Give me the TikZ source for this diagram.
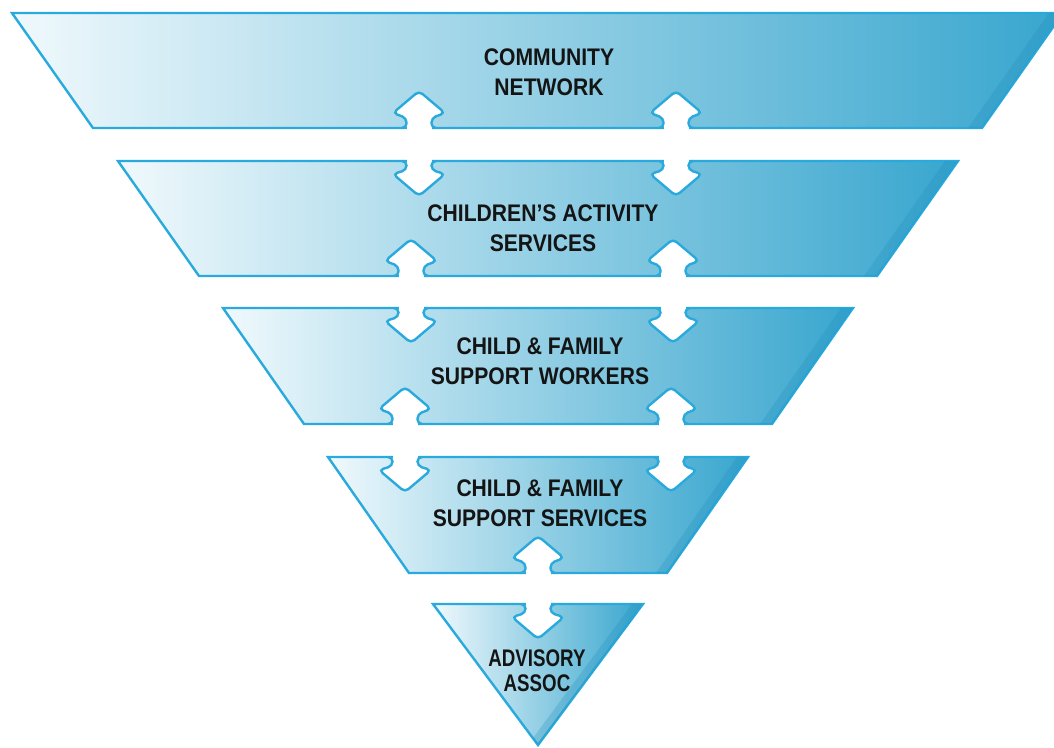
\documentclass[tikz,border=0pt]{standalone}
\usepackage{fontspec}
\newfontfamily\labfont[FakeStretch=0.88]{Liberation Sans}
\newfontfamily\labfontn[FakeStretch=0.78]{Liberation Sans}
\definecolor{edgeblue}{HTML}{2AAADC}
\definecolor{fillL}{HTML}{F0F9FC}
\definecolor{fillM}{HTML}{A3D6E6}
\definecolor{fillR}{HTML}{38A6CE}
\definecolor{bandblue}{HTML}{1E8CBC}
\definecolor{textc}{HTML}{141414}
\newcommand\twoway[3]{%
  \fill[white] (#1-12.5,#2-3) rectangle (#1+12.5,#3+3);
  \begin{scope}[shift={(#1,#2)}]
    \fill[white,rounded corners=4.5pt] (-12.5,1) -- (-12.5,-10) -- (-26,-15) -- (0,-37) -- (26,-15) -- (12.5,-10) -- (12.5,1) -- cycle;
    \draw[headline] (-17,0) -- (-12.5,0) -- (-12.5,-10) -- (-26,-15) -- (0,-37) -- (26,-15) -- (12.5,-10) -- (12.5,0) -- (17,0);
  \end{scope}
  \begin{scope}[shift={(#1,#3)}]
    \fill[white,rounded corners=4.5pt] (-12.5,-1) -- (-12.5,9) -- (-26,13) -- (0,35) -- (26,13) -- (12.5,9) -- (12.5,-1) -- cycle;
    \draw[headline] (-17,0) -- (-12.5,0) -- (-12.5,9) -- (-26,13) -- (0,35) -- (26,13) -- (12.5,9) -- (12.5,0) -- (17,0);
  \end{scope}}
\begin{document}
\begin{tikzpicture}[x=1pt,y=-1pt,
  layer/.style={draw=edgeblue,line width=2.4pt,line join=miter,left color=fillL,middle color=fillM,right color=fillR},
  band/.style={fill=bandblue,fill opacity=0.25},
  headline/.style={draw=edgeblue,line width=2.4pt,rounded corners=4.5pt},
  lab/.style={font=\labfont\bfseries\fontsize{24}{29.5}\selectfont,text=textc,align=center,inner sep=0pt},
  labn/.style={font=\labfontn\bfseries\fontsize{24}{25}\selectfont,text=textc,align=center,inner sep=0pt}]
\useasboundingbox (0,0) rectangle (1054,747);
\begin{scope}
\clip (0,0) rectangle (1054,747);
% layers
\path[layer] (12,13) -- (1063,13) -- (982,128) -- (93,128) -- cycle;
\path[band] (1063,13) -- (982,128) -- (968,128) -- (1049,13) -- cycle;
\path[layer] (118,161) -- (958,161) -- (877,276) -- (199,276) -- cycle;
\path[band] (958,161) -- (877,276) -- (864,276) -- (945,161) -- cycle;
\path[layer] (223,308) -- (853,308) -- (772,424) -- (304,424) -- cycle;
\path[band] (853,308) -- (772,424) -- (760,424) -- (841,308) -- cycle;
\path[layer] (328,457) -- (748,457) -- (667,573) -- (409,573) -- cycle;
\path[band] (748,457) -- (667,573) -- (656,573) -- (737,457) -- cycle;
\path[layer] (433,604) -- (643,604) -- (538,745) -- cycle;
\path[band] (643,604) -- (538,745) -- (533,738) -- (632,604) -- cycle;
% arrows
\twoway{419}{128}{161}
\twoway{676}{128}{161}
\twoway{411}{276}{308}
\twoway{673}{276}{308}
\twoway{405}{424}{457}
\twoway{671}{424}{457}
\twoway{538}{573}{604}
\end{scope}
% labels
\node[lab] (community) at (549,72) {COMMUNITY\\NETWORK};
\node[lab] (activity) at (543,228) {CHILDREN’S ACTIVITY\\SERVICES};
\node[lab] (workers) at (540,361) {CHILD \& FAMILY\\SUPPORT WORKERS};
\node[lab] (services) at (540,503) {CHILD \& FAMILY\\SUPPORT SERVICES};
\node[labn] (advisory) at (537,671) {ADVISORY\\ASSOC};
\end{tikzpicture}
\end{document}
